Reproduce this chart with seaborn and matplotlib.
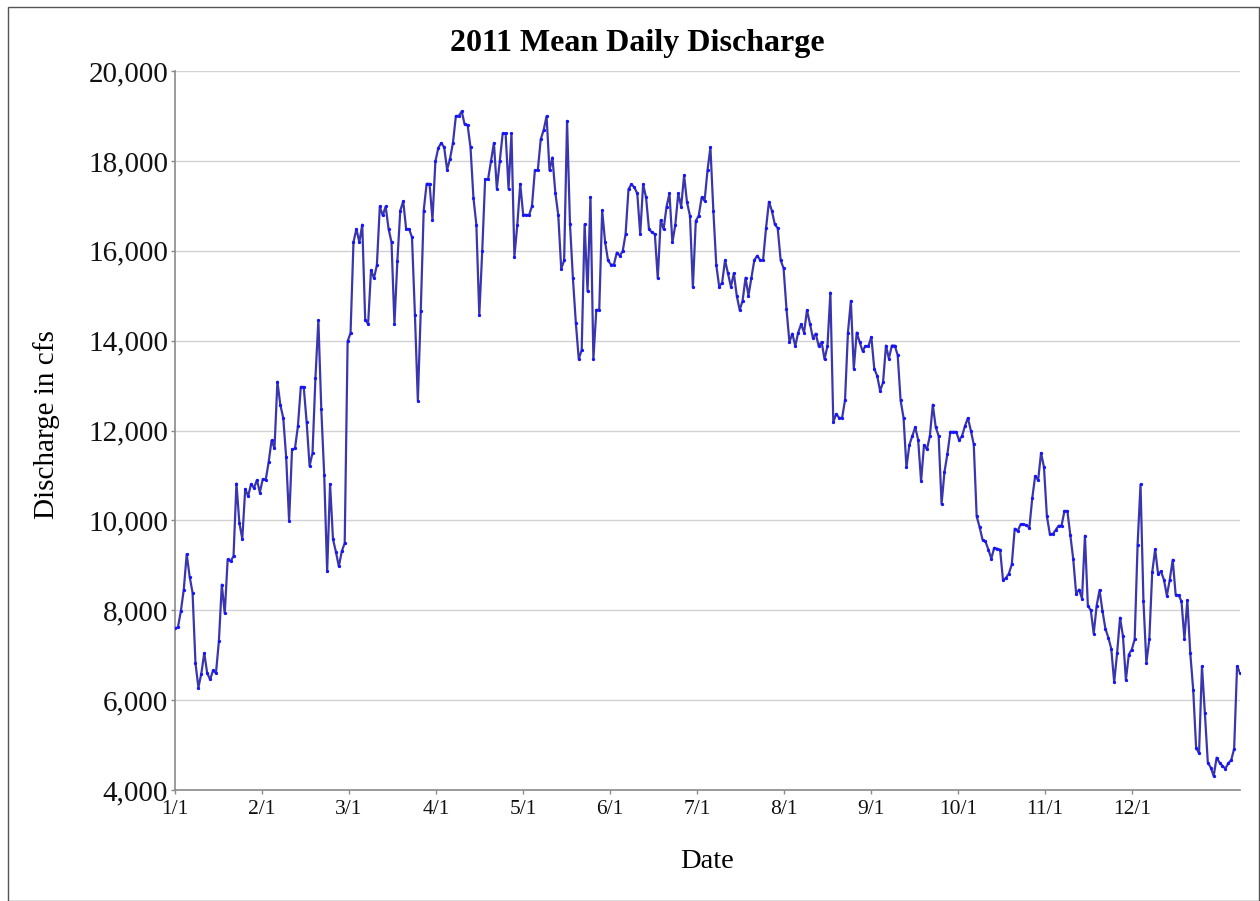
import numpy as np
import pandas as pd
import matplotlib
matplotlib.use("Agg")
import matplotlib.pyplot as plt
from matplotlib.patches import Rectangle
from matplotlib.ticker import FuncFormatter
import seaborn as sns

# Mean daily discharge (cfs), one value per day of 2011
jan = [7600, 7620, 7980, 8460, 9250, 8750, 8390, 6820, 6280, 6590, 7050, 6600, 6460,
       6660, 6600, 7310, 8570, 7930, 9130, 9090, 9200, 10820, 9940, 9590, 10700, 10540,
       10810, 10720, 10900, 10620, 10920]
feb = [10900, 11290, 11780, 11600, 13085, 12570, 12280, 11400, 9985, 11580, 11600, 12090,
       12970, 12970, 12180, 11210, 11500, 13170, 14450, 12475, 11010, 8865, 10810, 9580,
       9300, 8975, 9310, 9495]
mar = [13985, 14170, 16190, 16485, 16190, 16580, 14470, 14370, 15570, 15390, 15680, 16985,
       16785, 16985, 16485, 16190, 14370, 15775, 16895, 17100, 16485, 16485, 16300, 14580,
       12665, 14670, 16895, 17490, 17490, 16690, 17990, 18290]
apr = [18400, 18300, 17805, 18050, 18400, 19000, 19000, 19100, 18810, 18800, 18300, 17180,
       16580, 14570, 15985, 17590, 17590, 18000, 18400, 17380, 18000, 18610, 18610, 17380,
       18610, 15870, 16580, 17490, 16800, 16800]
may = [16790, 16990, 17790, 17790, 18480, 18685, 18995, 17790, 18075, 17285, 16790, 15600,
       15785, 18890, 16590, 15390, 14395, 13590, 13790, 16590, 15095, 17195, 13590, 14685,
       14685, 16900, 16195, 15785, 15690, 15690]
jun = [15960, 15890, 15985, 16370, 17370, 17480, 17410, 17275, 16370, 17480, 17185, 16480,
       16410, 16370, 15385, 16680, 16480, 16980, 17275, 16185, 16580, 17275, 16980, 17680,
       17075, 16780, 15185, 16665, 16780, 17185]
jul = [17110, 17790, 18300, 16890, 15680, 15200, 15290, 15790, 15500, 15200, 15500, 15000,
       14680, 14890, 15400, 15000, 15400, 15790, 15890, 15790, 15790, 16500, 17090, 16890,
       16590, 16500, 15790, 15610, 14700]
aug = [13970, 14155, 13880, 14180, 14365, 14180, 14675, 14380, 14065, 14155, 13880, 13970,
       13585, 13880, 15070, 12185, 12370, 12280, 12280, 12675, 14180, 14885, 13375, 14180,
       13970, 13770, 13880, 13880, 14080, 13375]
sep = [13215, 12880, 13070, 13890, 13600, 13890, 13890, 13680, 12670, 12285, 11180, 11680,
       11880, 12075, 11790, 10870, 11680, 11580, 11880, 12575, 12075, 11880, 10365, 11080,
       11480, 11970, 11970, 11970, 11780, 11880]
oct_ = [12100, 12280, 12000, 11690, 10090, 9850, 9570, 9530, 9350, 9150, 9390, 9370, 9350,
        8670, 8720, 8815, 9020, 9815, 9760, 9910, 9910, 9895, 9835, 10495, 10990, 10890,
        11500, 11185, 10090, 9700]
nov = [9695, 9785, 9880, 9880, 10210, 10210, 9670, 9140, 8370, 8460, 8260, 9660, 8100,
       8000, 7480, 8100, 8450, 7980, 7590, 7390, 7145, 6400, 7050, 7835, 7420, 6450]
dec = [7015, 7125, 7350, 9460, 10800, 8200, 6830, 7350, 8845, 9360, 8805, 8865, 8680, 8325,
       8680, 9125, 8350, 8335, 8200, 7365, 8220, 7050, 6235, 4940, 4815, 6755, 5705, 4610,
       4500, 4310, 4720, 4610, 4535, 4475, 4595, 4665, 4920, 6755, 6610]

discharge = jan + feb + mar + apr + may + jun + jul + aug + sep + oct_ + nov + dec
tick_labels = ["1/1", "2/1", "3/1", "4/1", "5/1", "6/1", "7/1", "8/1", "9/1", "10/1",
               "11/1", "12/1"]
y_ticks = [4000, 6000, 8000, 10000, 12000, 14000, 16000, 18000, 20000]

df = pd.DataFrame({"day": np.arange(len(discharge)), "cfs": discharge})

sns.set_theme(style="white")
plt.rcParams["font.family"] = ["Liberation Serif", "DejaVu Serif"]

fig = plt.figure(figsize=(12.6, 9.01), dpi=100)
ax = fig.add_axes([175 / 1260, 1 - 790 / 901, (1240 - 175) / 1260, (790 - 71) / 901])

sns.lineplot(data=df, x="day", y="cfs", ax=ax, color="#3a36ae", linewidth=1.6,
             marker="o", markersize=1.6, markerfacecolor="#1414ff",
             markeredgecolor="#1414ff", zorder=3)

ax.set_xlim(0, len(discharge) - 1)
ax.set_ylim(4000, 20000)
ax.set_yticks(y_ticks)
ax.yaxis.set_major_formatter(FuncFormatter(lambda v, p: f"{int(v):,}"))
ax.set_xticks(np.linspace(0, 327, len(tick_labels)))
ax.set_xticklabels(tick_labels)

ax.grid(axis="y", color="#d2d2d2", linewidth=1.0)
ax.grid(axis="x", visible=False)
for side in ["top", "right"]:
    ax.spines[side].set_visible(False)
for side in ["left", "bottom"]:
    ax.spines[side].set_color("#8a8a8a")
    ax.spines[side].set_linewidth(1.2)

ax.tick_params(axis="both", which="major", colors="#111111", length=3, width=1,
               direction="out", pad=2)
ax.tick_params(axis="x", labelsize=15.5, bottom=True, color="#8a8a8a", pad=4)
ax.tick_params(axis="y", labelsize=21, left=True, color="#8a8a8a")

fig.text(637 / 1260, 1 - 44 / 901, "2011 Mean Daily Discharge", fontsize=23,
         fontweight="bold", ha="center", va="center", color="#000000")
ax.set_xlabel("Date", fontsize=20.5, color="#000000")
ax.xaxis.set_label_coords((707 - 175) / 1065, (790 - 862) / 719)
ax.set_ylabel("Discharge in cfs", fontsize=21, color="#000000")
ax.yaxis.set_label_coords((47 - 175) / 1065, (790 - 425) / 719)
ax.xaxis.label.set_va("center")
ax.yaxis.label.set_va("center")

# Thin frame round the whole figure
fig.patches.append(Rectangle((8 / 1260, 0.0), 1 - 8 / 1260 - 1 / 1260, 1 - 7 / 901,
                             transform=fig.transFigure, fill=False,
                             edgecolor="#555555", linewidth=1.0))

fig.savefig("out.png", dpi=100)
